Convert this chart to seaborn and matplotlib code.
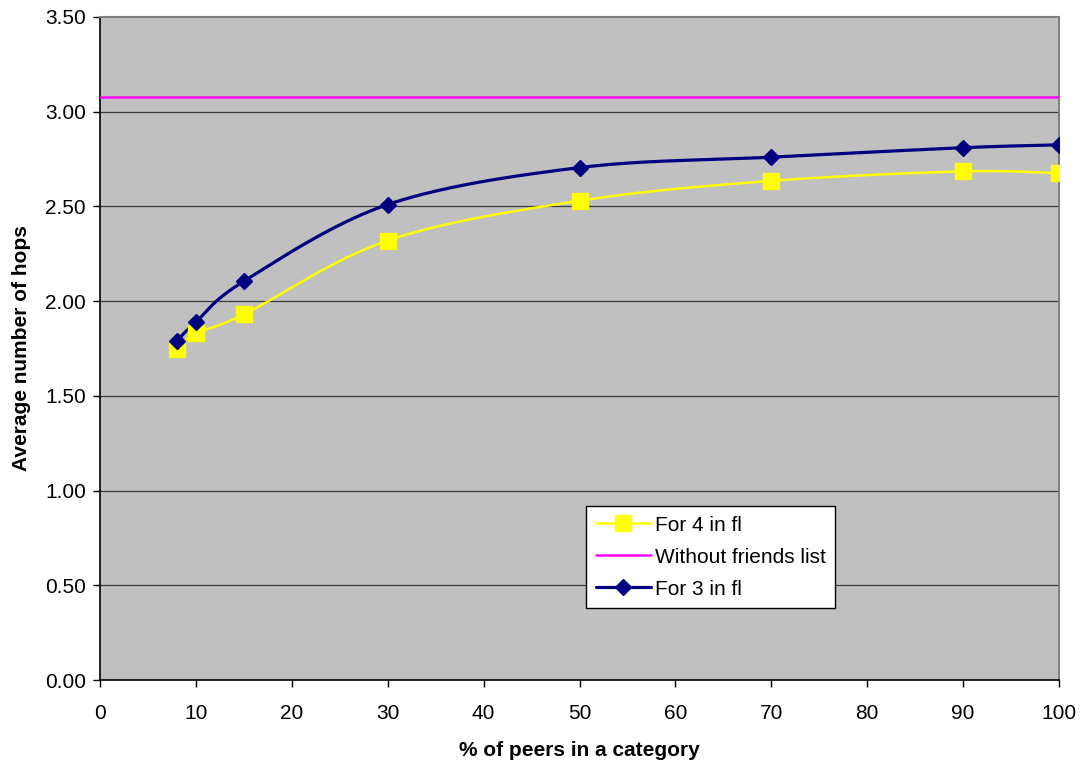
import numpy as np
import pandas as pd
import matplotlib
matplotlib.use("Agg")
import matplotlib.pyplot as plt
import seaborn as sns
from matplotlib.ticker import FormatStrFormatter, MultipleLocator
from matplotlib.lines import Line2D

# Percentage of peers in a category
pct = [8, 10, 15, 30, 50, 70, 90, 100]
# Average number of hops per configuration
hops_fl4 = [1.75, 1.83, 1.93, 2.32, 2.53, 2.635, 2.685, 2.675]
hops_fl3 = [1.79, 1.89, 2.105, 2.51, 2.705, 2.76, 2.81, 2.825]
baseline_x = [0, 100]
baseline_hops = [3.08, 3.08]

labels = ["For 4 in fl", "Without friends list", "For 3 in fl"]

sns.set_theme(style="white")
plt.rcParams["font.family"] = ["Liberation Sans", "DejaVu Sans"]
plt.rcParams["text.color"] = "black"
plt.rcParams["axes.labelcolor"] = "black"


def smooth(x, y, steps=40):
    """Catmull-Rom curve through the given points (spreadsheet-style smoothed line)."""
    x = np.asarray(x, float)
    y = np.asarray(y, float)
    px = np.concatenate([[x[0]], x, [x[-1]]])
    py = np.concatenate([[y[0]], y, [y[-1]]])
    xs, ys = [], []
    for i in range(1, len(px) - 2):
        t = np.linspace(0, 1, steps, endpoint=False)
        p0, p1, p2, p3 = (np.array([px[j], py[j]]) for j in range(i - 1, i + 3))
        c1 = p1 + (p2 - p0) / 6
        c2 = p2 - (p3 - p1) / 6
        pts = ((1 - t) ** 3)[:, None] * p1 + (3 * (1 - t) ** 2 * t)[:, None] * c1 \
            + (3 * (1 - t) * t ** 2)[:, None] * c2 + (t ** 3)[:, None] * p2
        xs.extend(pts[:, 0]); ys.extend(pts[:, 1])
    xs.append(x[-1]); ys.append(y[-1])
    return np.array(xs), np.array(ys)


fig = plt.figure(figsize=(10.83, 7.61), dpi=100)
ax = fig.add_axes([100 / 1083, 1 - 680 / 761, 959 / 1083, 663 / 761])
ax.set_facecolor("#C0C0C0")

yellow = "#FFFF00"
navy = "#000080"
magenta = "#FF00FF"
fs = 15

# horizontal grid
for v in np.arange(0.5, 3.5, 0.5):
    ax.axhline(v, color="#3a3a3a", lw=0.9, zorder=1)

# smoothed curves
sx, sy = smooth(pct, hops_fl4)
sns.lineplot(x=sx, y=sy, ax=ax, color=yellow, lw=1.8, sort=False, zorder=3)
sx, sy = smooth(pct, hops_fl3)
sns.lineplot(x=sx, y=sy, ax=ax, color=navy, lw=2.3, sort=False, zorder=4)
sns.lineplot(x=baseline_x, y=baseline_hops, ax=ax, color=magenta, lw=1.8, zorder=3)

# markers
ax.plot(pct, hops_fl4, ls="none", marker="s", ms=11, color=yellow, mec=yellow, zorder=5)
ax.plot(pct, hops_fl3, ls="none", marker="D", ms=8.5, color=navy, mec=navy, zorder=6)

ax.set_xlim(0, 100)
ax.set_ylim(0, 3.5)
ax.xaxis.set_major_locator(MultipleLocator(10))
ax.yaxis.set_major_locator(MultipleLocator(0.5))
ax.yaxis.set_major_formatter(FormatStrFormatter("%.2f"))
ax.tick_params(axis="both", which="major", direction="out", length=5, width=1,
               color="black", labelsize=fs, labelcolor="black",
               bottom=True, left=True)
ax.tick_params(axis="x", pad=12)
ax.tick_params(axis="y", pad=5)

for side in ("left", "bottom"):
    ax.spines[side].set_color("black")
    ax.spines[side].set_linewidth(1.2)
for side in ("top", "right"):
    ax.spines[side].set_color("#808080")
    ax.spines[side].set_linewidth(1.5)

ax.set_xlabel("% of peers in a category", fontsize=fs, fontweight="bold", labelpad=13)
ax.set_ylabel("Average number of hops", fontsize=fs, fontweight="bold", labelpad=10)

handles = [
    Line2D([], [], color=yellow, lw=1.8, marker="s", ms=11, mec=yellow),
    Line2D([], [], color=magenta, lw=1.8),
    Line2D([], [], color=navy, lw=2.3, marker="D", ms=8.5, mec=navy),
]
leg = ax.legend(handles, labels, loc="upper left", bbox_to_anchor=(0.507, 0.262),
                fontsize=fs, frameon=True, fancybox=False, framealpha=1,
                edgecolor="black", facecolor="white", handlelength=2.65,
                handletextpad=0.2, borderpad=0.45, labelspacing=0.62,
                borderaxespad=0)
leg.get_frame().set_linewidth(1.0)

fig.savefig("out.png", dpi=100)
